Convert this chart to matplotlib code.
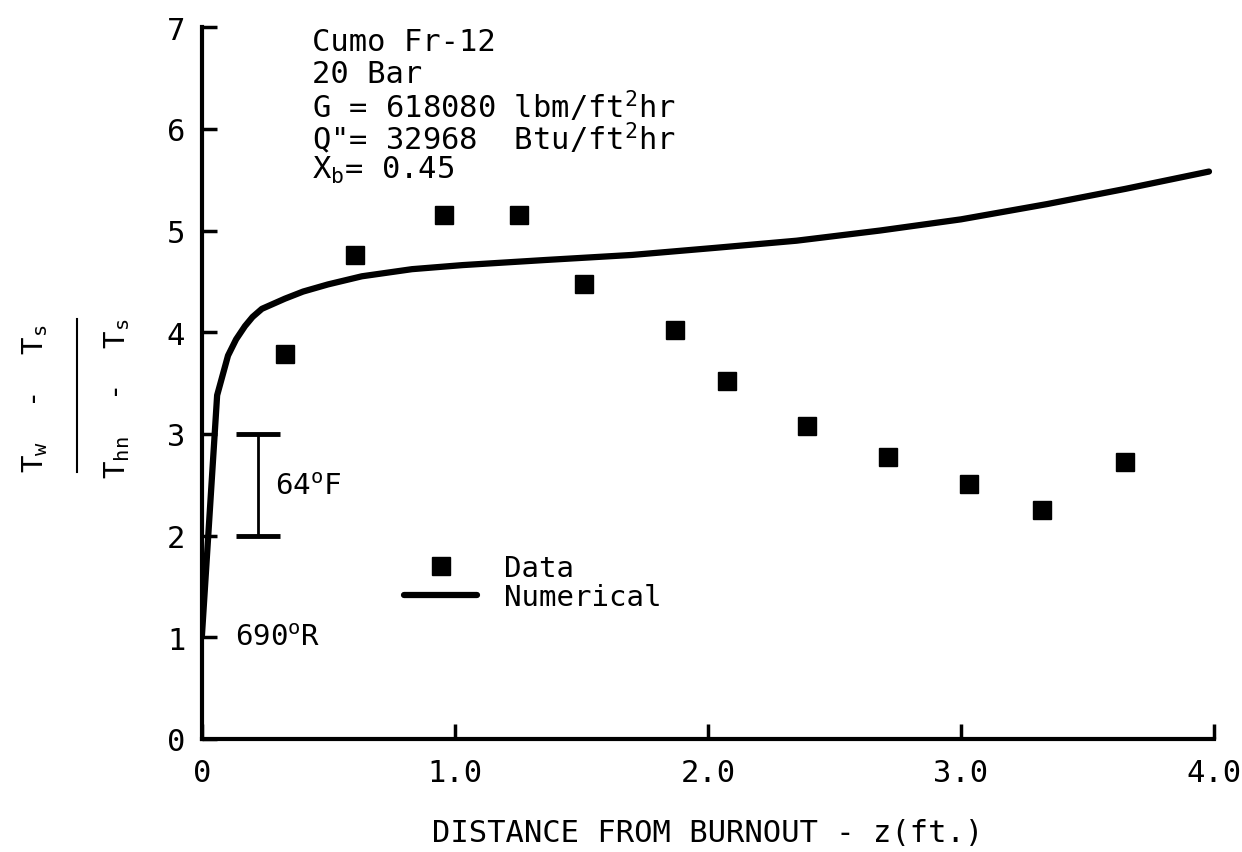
import matplotlib
matplotlib.use("Agg")
import matplotlib.pyplot as plt
from matplotlib.lines import Line2D

plt.rcParams['font.family'] = ['DejaVu Sans Mono']
plt.rcParams['mathtext.fontset'] = 'custom'
plt.rcParams['mathtext.rm'] = 'DejaVu Sans Mono'
plt.rcParams['mathtext.it'] = 'DejaVu Sans Mono'

# measured wall superheat ratio (squares)
z_data = [0.33, 0.605, 0.958, 1.253, 1.51, 1.87, 2.075, 2.39, 2.71, 3.03, 3.32, 3.65]
ratio_data = [3.79, 4.76, 5.15, 5.15, 4.47, 4.02, 3.52, 3.08, 2.77, 2.51, 2.25, 2.72]

# numerical solution (solid curve)
z_num = [0.0, 0.06, 0.103, 0.135, 0.17, 0.2, 0.237, 0.328, 0.4, 0.498, 0.632,
         0.83, 1.03, 1.356, 1.7, 2.03, 2.35, 2.68, 3.0, 3.34, 3.65, 3.98]
ratio_num = [1.02, 3.38, 3.77, 3.93, 4.06, 4.15, 4.23, 4.33, 4.40, 4.47, 4.55,
             4.62, 4.66, 4.71, 4.76, 4.83, 4.90, 5.00, 5.11, 5.26, 5.41, 5.58]

x_ticks = [0, 1, 2, 3, 4]
x_ticklabels = ['0', '1.0', '2.0', '3.0', '4.0']
y_ticks = [0, 1, 2, 3, 4, 5, 6, 7]

case_lines = [
    'Cumo Fr-12',
    '20 Bar',
    r'G = 618080 lbm/ft$^{\mathrm{2}}$hr',
    r'Q"= 32968  Btu/ft$^{\mathrm{2}}$hr',
    r'X$_{\mathrm{b}}$= 0.45',
]

fig = plt.figure(figsize=(12.42, 8.53), dpi=100)
ax = fig.add_axes([0.1626, 0.1325, 0.8149, 0.8345])

ax.plot(z_num, ratio_num, color='black', lw=4.5, solid_capstyle='round',
        solid_joinstyle='round', label='Numerical')
ax.plot(z_data, ratio_data, ls='none', marker='s', ms=13, color='black',
        label='Data')

ax.set_xlim(0, 4)
ax.set_ylim(0, 7)
ax.set_xticks(x_ticks)
ax.set_xticklabels(x_ticklabels)
ax.set_yticks(y_ticks)
for side in ['top', 'right']:
    ax.spines[side].set_visible(False)
for side in ['left', 'bottom']:
    ax.spines[side].set_linewidth(3)
ax.tick_params(direction='in', length=11, width=2.5, labelsize=22)
ax.tick_params(axis='x', pad=14)
ax.tick_params(axis='y', pad=12)

ax.set_xlabel('DISTANCE FROM BURNOUT - z(ft.)', fontsize=22, labelpad=22)

# y label drawn as a stacked fraction
fig.text(0.028, 0.533, r'T$_{\mathrm{w}}$  -  T$_{\mathrm{s}}$', rotation=90,
         fontsize=21, ha='center', va='center')
fig.add_artist(Line2D([0.062, 0.062], [0.446, 0.625], color='black', lw=1.5))
fig.text(0.094, 0.533, r'T$_{\mathrm{hn}}$  -  T$_{\mathrm{s}}$', rotation=90,
         fontsize=21, ha='center', va='center')

# case description
for i, line in enumerate(case_lines):
    ax.text(0.435, 6.86 - 0.315 * i, line, fontsize=22, ha='left', va='center')

# temperature scale bar
ax.errorbar([0.221], [2.5], yerr=0.5, fmt='none', ecolor='black',
            elinewidth=2, capsize=16, capthick=3.5)
ax.text(0.29, 2.49, r'64$^{\mathrm{o}}$F', fontsize=21, ha='left', va='center')
ax.text(0.13, 1.0, r'690$^{\mathrm{o}}$R', fontsize=21, ha='left', va='center')

handles, labels = ax.get_legend_handles_labels()
ax.legend(handles[::-1], labels[::-1], loc='upper left',
          bbox_to_anchor=(0.80, 1.82), bbox_transform=ax.transData,
          frameon=False, fontsize=21, handlelength=2.5, handletextpad=0.9,
          labelspacing=0.05, borderpad=0, borderaxespad=0)

fig.savefig('out.png', dpi=100, facecolor='white')
